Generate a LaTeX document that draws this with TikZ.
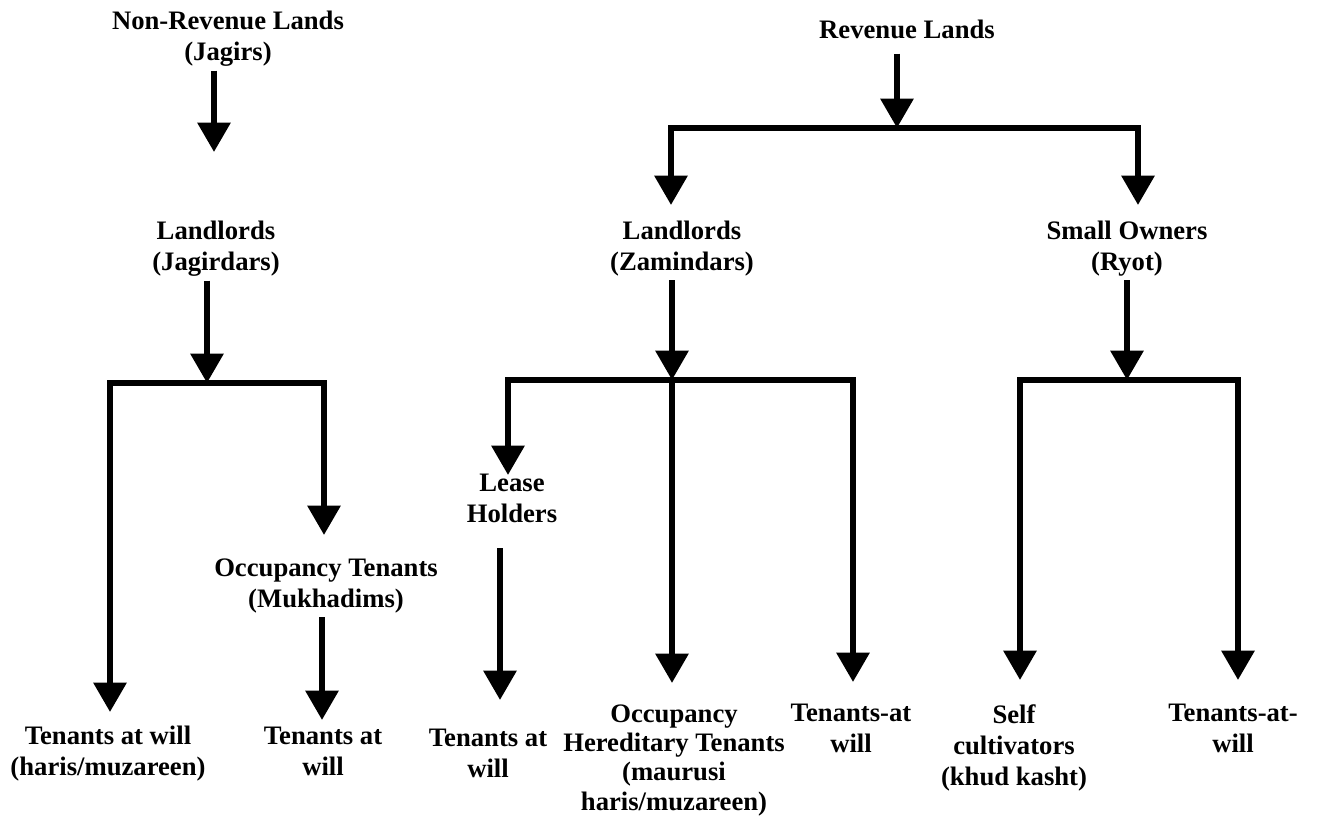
\documentclass[tikz,border=0pt]{standalone}
\usepackage{fontspec}
\setmainfont{Liberation Serif}
\usetikzlibrary{arrows.meta}

\begin{document}
\begin{tikzpicture}[x=0.75pt,y=-0.75pt,
	lbl/.style={anchor=base,align=center,font=\bfseries\fontsize{20}{23.25}\selectfont},
	arr/.style={line width=4.5pt,line join=miter,-{Triangle[width=24pt,length=22pt]}}]

	\useasboundingbox (0,0) rectangle (1321,832);

	% non-revenue side
	\node[lbl] (nrl) at (228,60) {Non-Revenue Lands\\(Jagirs)};
	\node[lbl] (ljag) at (216,270) {Landlords\\(Jagirdars)};
	\node[lbl] (occt) at (326,607) {Occupancy Tenants\\(Mukhadims)};
	\node[lbl] (taw1) at (108,775) {Tenants at will\\(haris/muzareen)};
	\node[lbl] (taw2) at (323,775) {Tenants at\\will};

	\coordinate (j1) at (214,152);
	\coordinate (jbar) at (207,383);
	\coordinate (j2) at (110,712);
	\coordinate (j3) at (324,535);
	\coordinate (j4) at (322,720);

	\draw[arr] (nrl.south -| j1) -- (j1);
	\draw[arr] (ljag.south -| jbar) -- (jbar);
	\draw[arr] (jbar) -| (j2);
	\draw[arr] (jbar) -| (j3);
	\draw[arr] (occt.south -| j4) -- (j4);

	% revenue side
	\node[lbl] (rev) at (907,38) {Revenue Lands};
	\node[lbl] (lzam) at (682,270) {Landlords\\(Zamindars)};
	\node[lbl] (so) at (1127,270) {Small Owners\\(Ryot)};
	\node[lbl] (lh) at (512,522) {Lease\\Holders};
	\node[lbl] (taw3) at (488,777) {Tenants at\\will};
	\node[lbl,font=\bfseries\fontsize{20}{22}\selectfont] (ohn) at (674,810) {Occupancy\\Hereditary Tenants\\(maurusi\\haris/muzareen)};
	\node[lbl] (taa1) at (851,752) {Tenants-at\\will};
	\node[lbl] (self) at (1014,785) {Self\\cultivators\\(khud kasht)};
	\node[lbl] (taa2) at (1233,752) {Tenants-at-\\will};

	\coordinate (rbar) at (897,128);
	\coordinate (r1) at (671,205);
	\coordinate (r2) at (1138,205);
	\coordinate (zbar) at (672,380);
	\coordinate (z1) at (508,475);
	\coordinate (z2) at (672,683);
	\coordinate (z3) at (853,682);
	\coordinate (z4) at (500,700);
	\coordinate (sbar) at (1127,380);
	\coordinate (s1) at (1020,680);
	\coordinate (s2) at (1238,680);

	\draw[arr,shorten <=8pt] (rev.south -| rbar) -- (rbar);
	\draw[arr] (rbar) -| (r1);
	\draw[arr] (rbar) -| (r2);
	\draw[arr] (lzam.south -| zbar) -- (zbar);
	\draw[arr] (zbar) -| (z1);
	\draw[arr] (zbar) -- (z2);
	\draw[arr] (zbar) -| (z3);
	\draw[arr,shorten <=16pt] (lh.south -| z4) -- (z4);
	\draw[arr] (so.south -| sbar) -- (sbar);
	\draw[arr] (sbar) -| (s1);
	\draw[arr] (sbar) -| (s2);

\end{tikzpicture}
\end{document}
